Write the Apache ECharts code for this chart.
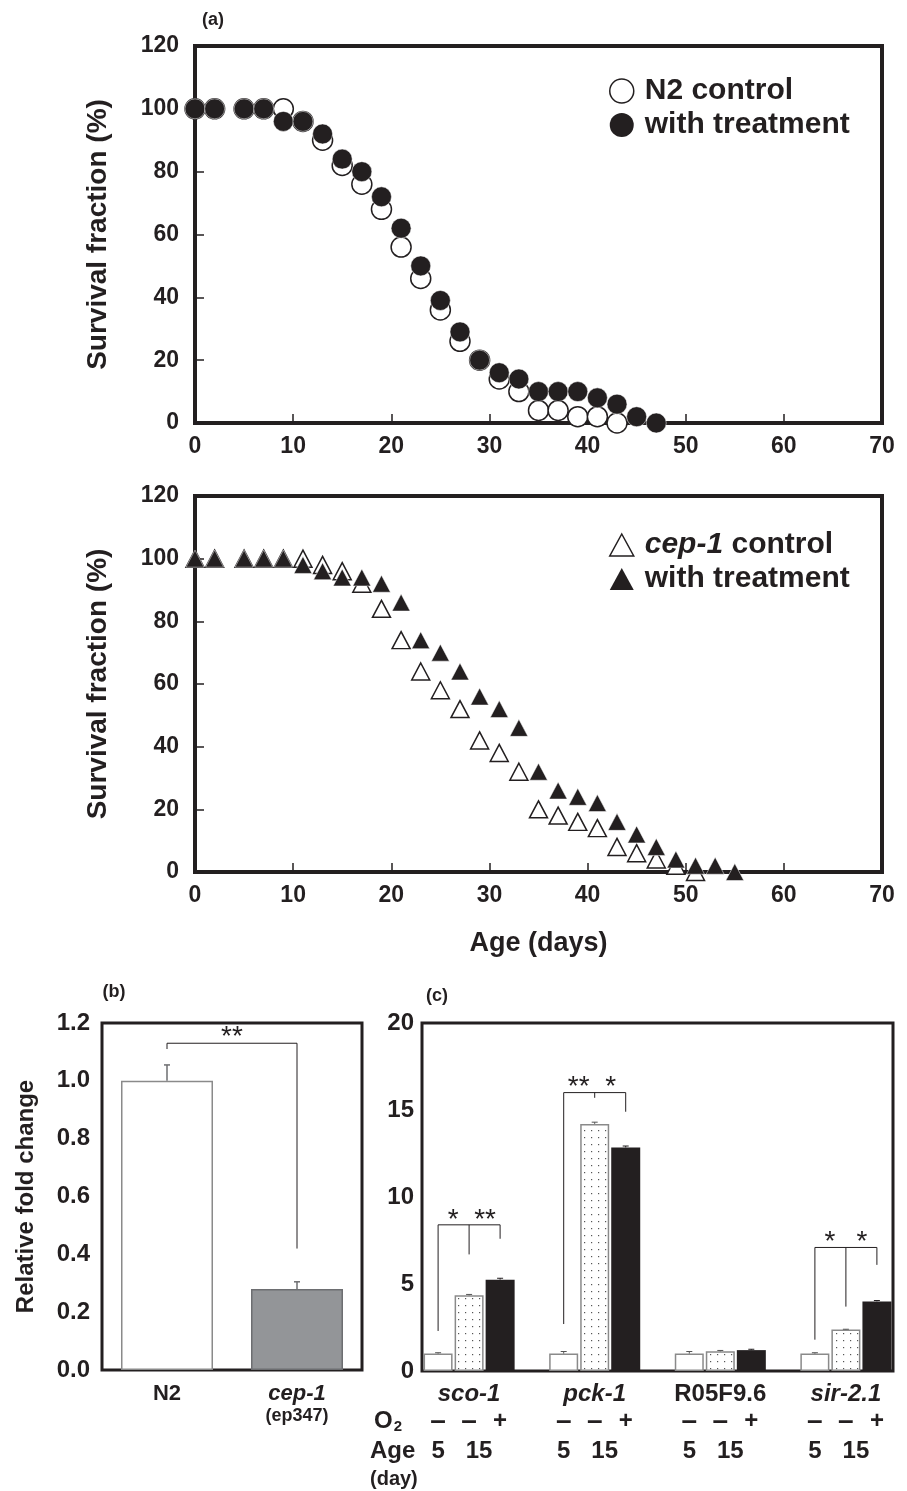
<!DOCTYPE html>
<html><head><meta charset="utf-8">
<script src="https://cdn.jsdelivr.net/npm/echarts@6/dist/echarts.min.js"></script>
<style>html,body{margin:0;padding:0;background:#fff}#c{width:907px;height:1491px}</style>
</head><body><div id="c"></div>
<script>
const FONT = '"Liberation Sans", Arial, Helvetica, sans-serif';
const INK = '#231f20';

// ---------- Panel (a), top: N2 ----------
const n2ControlDays   = [0,2,5,7,9,11,13,15,17,19,21,23,25,27,29,31,33,35,37,39,41,43];
const n2ControlValues = [100,100,100,100,100,96,90,82,76,68,56,46,36,26,20,14,10,4,4,2,2,0];
const n2TreatDays     = [0,2,5,7,9,11,13,15,17,19,21,23,25,27,29,31,33,35,37,39,41,43,45,47];
const n2TreatValues   = [100,100,100,100,96,96,92,84,80,72,62,50,39,29,20,16,14,10,10,10,8,6,2,0];

// ---------- Panel (a), bottom: cep-1 ----------
const cepControlDays   = [0,2,5,7,9,11,13,15,17,19,21,23,25,27,29,31,33,35,37,39,41,43,45,47,49,51];
const cepControlValues = [100,100,100,100,100,100,98,96,92,84,74,64,58,52,42,38,32,20,18,16,14,8,6,4,2,0];
const cepTreatDays     = [0,2,5,7,9,11,13,15,17,19,21,23,25,27,29,31,33,35,37,39,41,43,45,47,49,51,53,55];
const cepTreatValues   = [100,100,100,100,100,98,96,94,94,92,86,74,70,64,56,52,46,32,26,24,22,16,12,8,4,2,2,0];

// ---------- Panel (b) ----------
const bCategories = ['N2', 'cep-1'];
const bSubLabels  = ['', '(ep347)'];
const bValues     = [1.0, 0.28];
const bErrors     = [0.055, 0.025];
const bBracket    = [1.13, 1.11, 0.42];   // bar level, left leg end, right leg end
const bStars      = '**';

// ---------- Panel (c) ----------
const genes        = ['sco-1', 'pck-1', 'R05F9.6', 'sir-2.1'];
const geneItalic   = [true, true, false, true];
const day5Values   = [1.0, 1.0, 1.0, 1.0];
const day15Values  = [4.35, 14.2, 1.13, 2.38];
const day15O2Values= [5.25, 12.85, 1.2, 4.0];
const day5Err      = [0.05, 0.12, 0.12, 0.05];
const day15Err     = [0.05, 0.1, 0.05, 0.02];
const day15O2Err   = [0.08, 0.08, 0.05, 0.05];
// [group, bracket level, left leg end, middle leg end, right leg end]
const cBrackets    = [[0, 8.4, 2.3, 6.7, 7.6], [1, 16.0, 2.7, 15.7, 14.9], [3, 7.1, 1.8, 3.7, 6.1]];
const cStars       = [['*','**'], ['**','*'], null, ['*','*']];
const o2Signs      = ['\u2013', '\u2013', '+'];
const ageLabels    = ['5', '15'];

const BAR_W = 29, BAR_STEP = 31;

// dotted pattern
const pc = document.createElement('canvas'); pc.width = 7; pc.height = 7;
const pctx = pc.getContext('2d');
pctx.fillStyle = '#ffffff'; pctx.fillRect(0,0,7,7);
pctx.fillStyle = '#555555'; pctx.fillRect(3,3,1.2,1.2);

const chart = echarts.init(document.getElementById('c'), null, {renderer: 'canvas'});

const tickLbl = {fontFamily: FONT, fontWeight: 'bold', fontSize: 23, color: INK};
const aGridCommon = {show: true, borderColor: INK, borderWidth: 4, backgroundColor: 'transparent'};

function survivalX(gi, withName) {
  return {
    type: 'value', gridIndex: gi, min: 0, max: 70, interval: 10,
    axisLine: {show: false}, splitLine: {show: false},
    axisTick: {inside: true, length: 9, lineStyle: {color: INK, width: 1.5}},
    axisLabel: Object.assign({margin: 12}, tickLbl),
    name: withName ? 'Age (days)' : '', nameLocation: 'middle', nameGap: 58,
    nameTextStyle: {fontFamily: FONT, fontWeight: 'bold', fontSize: 27, color: INK}
  };
}
function survivalY(gi) {
  return {
    type: 'value', gridIndex: gi, min: 0, max: 120, interval: 20,
    axisLine: {show: false}, splitLine: {show: false},
    axisTick: {inside: true, length: 9, lineStyle: {color: INK, width: 1.5}},
    axisLabel: Object.assign({margin: 16}, tickLbl),
    name: 'Survival fraction (%)', nameLocation: 'middle', nameRotate: 90, nameGap: 83,
    nameTextStyle: {fontFamily: FONT, fontWeight: 'bold', fontSize: 28, color: INK}
  };
}

const zip = (a, b) => a.map((v, i) => [v, b[i]]);

const legendText = {fontFamily: FONT, fontWeight: 'bold', fontSize: 30, color: INK,
  rich: {i: {fontFamily: FONT, fontWeight: 'bold', fontStyle: 'italic', fontSize: 30, color: INK},
         n: {fontFamily: FONT, fontWeight: 'bold', fontSize: 30, color: INK}}};

const starStyle = {fontFamily: FONT, fontSize: 28, fill: INK, align: 'center', verticalAlign: 'bottom'};

const option = {
  animation: false,
  backgroundColor: '#ffffff',
  textStyle: {fontFamily: FONT},
  grid: [
    Object.assign({left: 195, top: 46, width: 687, height: 377}, aGridCommon),
    Object.assign({left: 195, top: 496, width: 687, height: 376}, aGridCommon),
    {show: true, borderColor: INK, borderWidth: 3, left: 102, top: 1023, width: 260, height: 347},
    {show: true, borderColor: INK, borderWidth: 3, left: 422, top: 1023, width: 471, height: 348}
  ],
  legend: [
    {left: 604, top: 71, orient: 'vertical', itemWidth: 24, itemHeight: 24, itemGap: 4,
     textStyle: Object.assign({padding: [0,0,0,6]}, legendText),
     formatter: n => '{n|' + n + '}',
     data: [
       {name: 'N2 control', icon: 'circle', itemStyle: {color: '#fff', borderColor: INK, borderWidth: 1.5}},
       {name: 'with treatment', icon: 'circle', itemStyle: {color: INK, borderColor: INK, borderWidth: 0}}
     ], selectedMode: false},
    {left: 604, top: 525, orient: 'vertical', itemWidth: 24, itemHeight: 22, itemGap: 4,
     textStyle: Object.assign({padding: [0,0,0,6]}, legendText),
     formatter: n => n === 'cep-1 control' ? '{i|cep-1}{n| control}' : '{n|' + n + '}',
     data: [
       {name: 'cep-1 control', icon: 'triangle', itemStyle: {color: '#fff', borderColor: INK, borderWidth: 1.5}},
       {name: 'with treatment', icon: 'triangle', itemStyle: {color: INK, borderColor: INK, borderWidth: 0}}
     ], selectedMode: false}
  ],
  xAxis: [
    survivalX(0, false),
    survivalX(1, true),
    {type: 'category', gridIndex: 2, data: bCategories, axisLine: {show: false}, axisTick: {show: false},
     axisLabel: {margin: 12, interval: 0, lineHeight: 23,
       formatter: (v, i) => i === 0 ? '{b|N2}' : '{bi|cep-1}\n{s|' + bSubLabels[1] + '}',
       rich: {b: {fontFamily: FONT, fontWeight: 'bold', fontSize: 22, color: INK},
              bi: {fontFamily: FONT, fontWeight: 'bold', fontStyle: 'italic', fontSize: 22, color: INK},
              s: {fontFamily: FONT, fontWeight: 'bold', fontSize: 18, color: INK}}}},
    {type: 'value', gridIndex: 3, min: -0.375, max: 3.375, axisLine: {show: false}, axisTick: {show: false},
     splitLine: {show: false},
     axisLabel: {margin: 11, customValues: [0,1,2,3],
       formatter: v => { const i = Math.round(v); return geneItalic[i] ? '{i|' + genes[i] + '}' : '{n|' + genes[i] + '}'; },
       rich: {i: {fontFamily: FONT, fontWeight: 'bold', fontStyle: 'italic', fontSize: 24, color: INK},
              n: {fontFamily: FONT, fontWeight: 'bold', fontSize: 24, color: INK}}}}
  ],
  yAxis: [
    survivalY(0),
    survivalY(1),
    {type: 'value', gridIndex: 2, min: 0, max: 1.2, interval: 0.2, axisLine: {show: false},
     splitLine: {show: false},
     axisTick: {inside: true, length: 4, lineStyle: {color: '#cccccc', width: 1}},
     axisLabel: Object.assign({margin: 12, formatter: v => v.toFixed(1)}, tickLbl, {fontSize: 24}),
     name: 'Relative fold change', nameLocation: 'middle', nameRotate: 90, nameGap: 64,
     nameTextStyle: {fontFamily: FONT, fontWeight: 'bold', fontSize: 24, color: INK}},
    {type: 'value', gridIndex: 3, min: 0, max: 20, interval: 5, axisLine: {show: false},
     splitLine: {show: false}, axisTick: {show: false},
     axisLabel: Object.assign({margin: 8}, tickLbl, {fontSize: 24})}
  ],
  series: [
    {name: 'N2 control', type: 'scatter', xAxisIndex: 0, yAxisIndex: 0, clip: false,
     symbol: 'circle', symbolSize: 20, data: zip(n2ControlDays, n2ControlValues),
     itemStyle: {color: '#fff', borderColor: INK, borderWidth: 1.5, opacity: 1}},
    {name: 'with treatment', type: 'scatter', xAxisIndex: 0, yAxisIndex: 0, clip: false,
     symbol: 'circle', symbolSize: 20, data: zip(n2TreatDays, n2TreatValues),
     itemStyle: {color: INK, borderColor: '#fff', borderWidth: 0.5, opacity: 1}},
    {name: 'cep-1 control', type: 'scatter', xAxisIndex: 1, yAxisIndex: 1, clip: false,
     symbol: 'triangle', symbolSize: [18, 17], data: zip(cepControlDays, cepControlValues),
     itemStyle: {color: '#fff', borderColor: INK, borderWidth: 1.5, opacity: 1}},
    {name: 'with treatment', type: 'scatter', xAxisIndex: 1, yAxisIndex: 1, clip: false,
     symbol: 'triangle', symbolSize: [18, 17], data: zip(cepTreatDays, cepTreatValues),
     itemStyle: {color: INK, borderColor: '#fff', borderWidth: 0.5, opacity: 1}},

    // (b) bars
    {type: 'bar', xAxisIndex: 2, yAxisIndex: 2, barWidth: 92,
     data: [
       {value: bValues[0], itemStyle: {color: '#ffffff', borderColor: '#8a8a8a', borderWidth: 1.5}},
       {value: bValues[1], itemStyle: {color: '#939598', borderColor: '#6d6e71', borderWidth: 1.5}}
     ]},
    {type: 'custom', xAxisIndex: 2, yAxisIndex: 2, clip: false, z: 5,
     data: bValues.map((v, i) => [i, v, bErrors[i]]),
     renderItem: (p, api) => {
       const x = api.value(0), v = api.value(1), e = api.value(2);
       const a = api.coord([x, v]), b = api.coord([x, v + e]);
       return {type: 'group', children: [
         {type: 'line', shape: {x1: a[0], y1: a[1], x2: b[0], y2: b[1]}, style: {stroke: '#6d6e71', lineWidth: 1.5}},
         {type: 'line', shape: {x1: b[0]-3, y1: b[1], x2: b[0]+3, y2: b[1]}, style: {stroke: '#6d6e71', lineWidth: 1.5}}
       ]};
     }},
    {type: 'custom', xAxisIndex: 2, yAxisIndex: 2, clip: false, z: 5,
     data: [bBracket],
     renderItem: (p, api) => {
       const top = api.value(0), le = api.value(1), re = api.value(2);
       const l0 = api.coord([0, top]), l1 = api.coord([0, le]);
       const r0 = api.coord([1, top]), r1 = api.coord([1, re]);
       return {type: 'group', children: [
         {type: 'polyline', shape: {points: [[l1[0], l1[1]], [l0[0], l0[1]], [r0[0], r0[1]], [r1[0], r1[1]]]},
          style: {stroke: INK, lineWidth: 1, fill: null}},
         {type: 'text', x: (l0[0] + r0[0]) / 2, y: l0[1] + 8, style: Object.assign({text: bStars}, starStyle)}
       ]};
     }},

    // (c) bars
    {name: 'day5', type: 'bar', xAxisIndex: 3, yAxisIndex: 3, barWidth: BAR_W, barGap: '7%',
     data: day5Values.map((v, i) => [i, v]),
     itemStyle: {color: '#ffffff', borderColor: '#8a8a8a', borderWidth: 1.5}},
    {name: 'day15', type: 'bar', xAxisIndex: 3, yAxisIndex: 3, barWidth: BAR_W, barGap: '7%',
     data: day15Values.map((v, i) => [i, v]),
     itemStyle: {color: {image: pc, repeat: 'repeat'}, borderColor: '#8a8a8a', borderWidth: 1.5}},
    {name: 'day15O2', type: 'bar', xAxisIndex: 3, yAxisIndex: 3, barWidth: BAR_W, barGap: '7%',
     data: day15O2Values.map((v, i) => [i, v]),
     itemStyle: {color: INK, borderColor: INK, borderWidth: 0}},
    // (c) error bars
    {type: 'custom', xAxisIndex: 3, yAxisIndex: 3, clip: false, z: 5,
     data: genes.map((g, i) => [i, day5Values[i], day5Err[i], day15Values[i], day15Err[i], day15O2Values[i], day15O2Err[i]]),
     renderItem: (p, api) => {
       const i = api.value(0); const ch = [];
       [[1, -1, '#555'], [3, 0, '#555'], [5, 1, INK]].forEach(([k, off, col]) => {
         const v = api.value(k), e = api.value(k + 1);
         const a = api.coord([i, v]), b = api.coord([i, v + e]);
         const x = a[0] + off * BAR_STEP;
         ch.push({type: 'line', shape: {x1: x, y1: a[1], x2: x, y2: b[1]}, style: {stroke: col, lineWidth: 1}});
         ch.push({type: 'line', shape: {x1: x-3, y1: b[1], x2: x+3, y2: b[1]}, style: {stroke: col, lineWidth: 1}});
       });
       return {type: 'group', children: ch};
     }},
    // (c) significance brackets
    {type: 'custom', xAxisIndex: 3, yAxisIndex: 3, clip: false, z: 5,
     data: cBrackets,
     renderItem: (p, api) => {
       const i = api.value(0), top = api.value(1);
       const c = api.coord([i, top]);
       const y0 = c[1];
       const xs = [c[0] - BAR_STEP, c[0], c[0] + BAR_STEP];
       const ends = [api.coord([i, api.value(2)])[1], api.coord([i, api.value(3)])[1], api.coord([i, api.value(4)])[1]];
       const ch = [
         {type: 'line', shape: {x1: xs[0], y1: y0, x2: xs[2], y2: y0}, style: {stroke: INK, lineWidth: 1}}
       ];
       xs.forEach((x, k) => ch.push({type: 'line', shape: {x1: x, y1: y0, x2: x, y2: ends[k]}, style: {stroke: INK, lineWidth: 1}}));
       const st = cStars[i];
       if (st) {
         ch.push({type: 'text', x: c[0] - 16, y: y0 + 9, style: Object.assign({text: st[0]}, starStyle)});
         ch.push({type: 'text', x: c[0] + 16, y: y0 + 9, style: Object.assign({text: st[1]}, starStyle)});
       }
       return {type: 'group', children: ch};
     }},
    // (c) condition rows under axis
    {type: 'custom', xAxisIndex: 3, yAxisIndex: 3, clip: false, z: 5,
     data: genes.map((g, i) => [i, 0]),
     renderItem: (p, api) => {
       const c = api.coord([api.value(0), 0]);
       const ch = [];
       o2Signs.forEach((s, k) => ch.push({type: 'text', x: c[0] + (k - 1) * BAR_STEP, y: c[1] + 50,
         style: {text: s, fontFamily: FONT, fontWeight: 'bold', fontSize: k === 2 ? 24 : 28, fill: INK, align: 'center', verticalAlign: 'middle'}}));
       ch.push({type: 'text', x: c[0] - BAR_STEP, y: c[1] + 80,
         style: {text: ageLabels[0], fontFamily: FONT, fontWeight: 'bold', fontSize: 24, fill: INK, align: 'center', verticalAlign: 'middle'}});
       ch.push({type: 'text', x: c[0] + 10, y: c[1] + 80,
         style: {text: ageLabels[1], fontFamily: FONT, fontWeight: 'bold', fontSize: 24, fill: INK, align: 'center', verticalAlign: 'middle'}});
       return {type: 'group', children: ch};
     }}
  ],
  graphic: [
    {type: 'text', x: 213, y: 20, style: {text: '(a)', fontFamily: FONT, fontWeight: 'bold', fontSize: 18, fill: INK, align: 'center', verticalAlign: 'middle'}},
    {type: 'text', x: 114, y: 992, style: {text: '(b)', fontFamily: FONT, fontWeight: 'bold', fontSize: 18, fill: INK, align: 'center', verticalAlign: 'middle'}},
    {type: 'text', x: 437, y: 996, style: {text: '(c)', fontFamily: FONT, fontWeight: 'bold', fontSize: 18, fill: INK, align: 'center', verticalAlign: 'middle'}},
    {type: 'text', x: 374, y: 1421, style: {text: '{o|O}{s|2}', verticalAlign: 'middle', align: 'left',
      rich: {o: {fontFamily: FONT, fontWeight: 'bold', fontSize: 24, fill: INK},
             s: {fontFamily: FONT, fontWeight: 'bold', fontSize: 15, fill: INK, padding: [12, 0, 0, 1]}}}},
    {type: 'text', x: 370, y: 1451, style: {text: 'Age', fontFamily: FONT, fontWeight: 'bold', fontSize: 24, fill: INK, align: 'left', verticalAlign: 'middle'}},
    {type: 'text', x: 370, y: 1479, style: {text: '(day)', fontFamily: FONT, fontWeight: 'bold', fontSize: 20, fill: INK, align: 'left', verticalAlign: 'middle'}}
  ]
};
chart.setOption(option);
</script></body></html>
